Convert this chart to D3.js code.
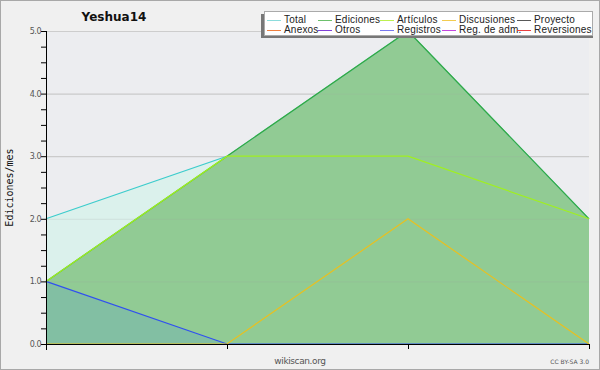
<!DOCTYPE html>
<html>
<head>
<meta charset="utf-8">
<script src="https://cdn.jsdelivr.net/npm/d3@7"></script>
<style>
  html, body { margin: 0; padding: 0; background: #f0f0f0; }
  svg { display: block; }
</style>
</head>
<body>
<svg id="chart" width="600" height="370"></svg>
<script>
(function () {
    "use strict";

    // data
    var periods = ["p1", "p2", "p3", "p4"];
    var total = [2, 3, 5, 2];
    var ediciones = [1, 3, 5, 2];
    var articulos = [1, 3, 3, 2];
    var discusiones = [0, 0, 2, 0];
    var registros = [1, 0, 0, 0];
    var yTicks = [0, 1, 2, 3, 4, 5];

    var legendNames = ["Total", "Ediciones", "Artículos", "Discusiones", "Proyecto",
        "Anexos", "Otros", "Registros", "Reg. de adm.", "Reversiones"];
    var legendColors = ["#8cdcdc", "#6cc06c", "#bdf050", "#f2cc50", "#585858",
        "#f08040", "#8040d8", "#7878f0", "#c448e0", "#e84040"];

    var config = {
        width: 600,
        height: 370,
        plot: { left: 46, right: 589, top: 31, bottom: 344 }
    };

    var svg = d3.select("#chart");
    var p = config.plot;

    // outer frame
    svg.append("rect")
        .attr("x", 0.5).attr("y", 0.5)
        .attr("width", config.width - 1).attr("height", config.height - 1)
        .attr("fill", "#f0f0f0")
        .attr("stroke", "#a8a8a8");

    svg.append("rect")
        .attr("x", p.left).attr("y", p.top)
        .attr("width", p.right - p.left).attr("height", p.bottom - p.top)
        .attr("fill", "#ecedf0");

    var x = d3.scalePoint()
        .domain(periods)
        .range([p.left, p.right]);

    var y = d3.scaleLinear()
        .domain([0, 5])
        .range([p.bottom, p.top]);

    // grid
    svg.append("g")
        .selectAll("line")
        .data(yTicks.slice(1))
        .enter().append("line")
        .attr("x1", p.left).attr("x2", p.right)
        .attr("y1", function (d) { return y(d) + 0.5; })
        .attr("y2", function (d) { return y(d) + 0.5; })
        .attr("stroke", "#cdcdcd");

    var series = [
        { values: total, line: "#3ccccc", fill: "#dbf1ec" },
        { values: ediciones, line: "#3aa83a", fill: "#91cb94" },
        { values: registros, line: "#3050f0", fill: "#82bfa3" },
        { values: discusiones, line: "#e8c020", fill: null },
        { values: articulos, line: "#a0f020", fill: null }
    ];

    var area = d3.area()
        .x(function (d, i) { return x(periods[i]); })
        .y0(y(0))
        .y1(function (d) { return y(d); });

    var line = d3.line()
        .x(function (d, i) { return x(periods[i]); })
        .y(function (d) { return y(d); });

    series.forEach(function (s) {
        if (s.fill) {
            svg.append("path")
                .datum(s.values)
                .attr("d", area)
                .attr("fill", s.fill);
        }
    });

    // gridlines show faintly through the fills
    svg.append("g")
        .selectAll("line")
        .data(yTicks.slice(1, 5))
        .enter().append("line")
        .attr("x1", p.left).attr("x2", p.right)
        .attr("y1", function (d) { return y(d) + 0.5; })
        .attr("y2", function (d) { return y(d) + 0.5; })
        .attr("stroke", "#a0a0a0")
        .attr("stroke-opacity", 0.2);

    series.forEach(function (s) {
        svg.append("path")
            .datum(s.values)
            .attr("d", line)
            .attr("fill", "none")
            .attr("stroke", s.line)
            .attr("stroke-width", 1.2);
    });

    // axes
    var yAxis = svg.append("g")
        .attr("transform", "translate(" + p.left + ",0)")
        .call(d3.axisLeft(y).tickValues(d3.range(0, 5.01, 0.25))
            .tickSize(5)
            .tickFormat(function (d) { return d % 1 === 0 ? d3.format(".1f")(d) : ""; }));
    yAxis.select(".domain").attr("stroke", "#000").attr("d", "M0.5," + p.top + "V" + (p.bottom + 6));
    yAxis.selectAll(".tick line").attr("stroke", "#000").attr("x1", 0.5);
    yAxis.selectAll(".tick text")
        .attr("x", -5)
        .attr("font-family", "DejaVu Sans")
        .attr("font-size", 8)
        .attr("letter-spacing", "-0.5px")
        .attr("fill", "#555");

    var xAxis = svg.append("g")
        .attr("transform", "translate(0," + p.bottom + ")")
        .call(d3.axisBottom(x).tickSize(5).tickFormat(""));
    xAxis.select(".domain").attr("stroke", "#000").attr("d", "M" + p.left + ",0.5H" + (p.right + 1));
    xAxis.selectAll(".tick line").attr("stroke", "#000");

    // texts
    svg.append("text")
        .attr("x", 114).attr("y", 21)
        .attr("text-anchor", "middle")
        .attr("font-family", "DejaVu Sans")
        .attr("font-weight", "bold")
        .attr("font-size", 12)
        .attr("fill", "#111")
        .text("Yeshua14");

    svg.append("text")
        .attr("transform", "translate(13," + ((p.top + p.bottom) / 2) + ") rotate(-90)")
        .attr("text-anchor", "middle")
        .attr("font-family", "DejaVu Sans Mono")
        .attr("font-size", 10)
        .attr("fill", "#111")
        .text("Ediciones/mes");

    svg.append("text")
        .attr("x", 300).attr("y", 364)
        .attr("text-anchor", "middle")
        .attr("font-family", "DejaVu Sans")
        .attr("font-size", 9)
        .attr("letter-spacing", "-0.4px")
        .attr("fill", "#555")
        .text("wikiscan.org");

    svg.append("text")
        .attr("x", 589).attr("y", 364)
        .attr("text-anchor", "end")
        .attr("font-family", "DejaVu Sans")
        .attr("font-size", 6)
        .attr("fill", "#555")
        .text("CC BY-SA 3.0");

    // legend
    var lg = svg.append("g");
    lg.append("rect")
        .attr("x", 261).attr("y", 14)
        .attr("width", 332).attr("height", 24)
        .attr("fill", "#777");
    lg.append("rect")
        .attr("x", 264.5).attr("y", 11.5)
        .attr("width", 328).attr("height", 24)
        .attr("fill", "#fff")
        .attr("stroke", "#aaa");

    var colX = [267, 318, 380, 442, 517];
    var items = lg.selectAll("g.item")
        .data(legendNames)
        .enter().append("g")
        .attr("transform", function (d, i) {
            return "translate(" + colX[i % 5] + "," + (20 + Math.floor(i / 5) * 10) + ")";
        });
    items.append("line")
        .attr("x1", 0).attr("x2", 14)
        .attr("y1", 0.5).attr("y2", 0.5)
        .attr("stroke", function (d) { return legendColors[legendNames.indexOf(d)]; });
    items.append("text")
        .attr("x", 17).attr("y", 3)
        .attr("font-family", "Liberation Sans")
        .attr("font-size", 10)
        .attr("letter-spacing", "0.2px")
        .attr("fill", "#222")
        .text(function (d) { return d; });
})();
</script>
</body>
</html>
